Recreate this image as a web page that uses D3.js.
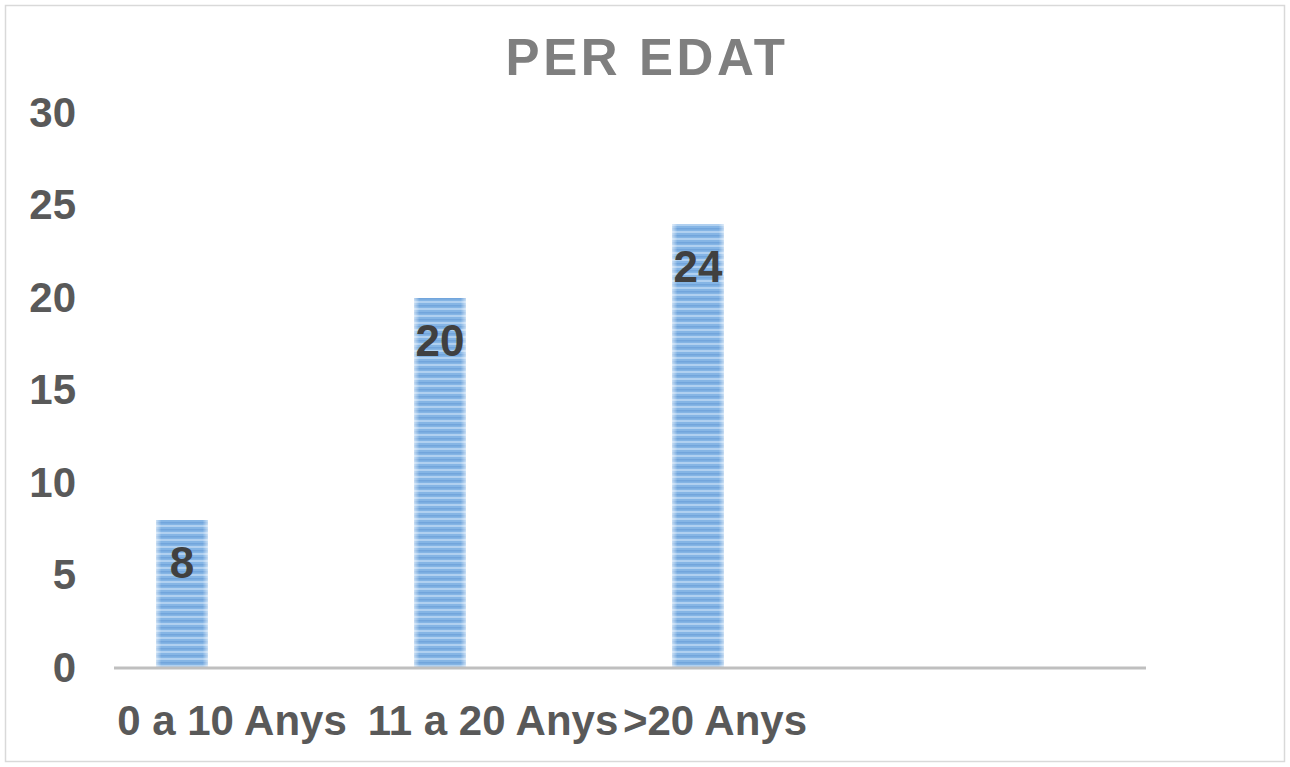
<!DOCTYPE html>
<html>
<head>
<meta charset="utf-8">
<script src="https://cdn.jsdelivr.net/npm/d3@7"></script>
<style>
  html, body { margin: 0; padding: 0; background: #fff; }
  svg { display: block; }
  text { font-family: "Liberation Sans", Arial, sans-serif; font-weight: bold; }
</style>
</head>
<body>
<svg id="chart" width="1290" height="767"></svg>
<script>
const categories = ["0 a 10 Anys", "11 a 20 Anys", ">20 Anys"];
const values = [8, 20, 24];
const yTicks = [0, 5, 10, 15, 20, 25, 30];
const title = "PER EDAT";

const svg = d3.select("#chart");
const W = 1290, H = 767;

// outer border
svg.append("rect").attr("x", 5.5).attr("y", 5.5).attr("width", W - 11).attr("height", H - 11)
  .attr("fill", "#fff").attr("stroke", "#d9d9d9").attr("stroke-width", 1.5);

const defs = svg.append("defs");
const pat = defs.append("pattern").attr("id", "stripes").attr("patternUnits", "userSpaceOnUse")
  .attr("width", 8).attr("height", 7);
pat.append("rect").attr("width", 8).attr("height", 7).attr("fill", "#85b5e5");
pat.append("rect").attr("y", 0).attr("width", 8).attr("height", 2).attr("fill", "#b0d0f0");
pat.append("rect").attr("y", 4).attr("width", 8).attr("height", 1.5).attr("fill", "#72a5dc");
const grad = defs.append("linearGradient").attr("id", "edge").attr("x1", 0).attr("x2", 1).attr("y1", 0).attr("y2", 0);
grad.append("stop").attr("offset", "0%").attr("stop-color", "#fff").attr("stop-opacity", 0.55);
grad.append("stop").attr("offset", "10%").attr("stop-color", "#fff").attr("stop-opacity", 0.0);
grad.append("stop").attr("offset", "90%").attr("stop-color", "#fff").attr("stop-opacity", 0.0);
grad.append("stop").attr("offset", "100%").attr("stop-color", "#fff").attr("stop-opacity", 0.55);

const y = d3.scaleLinear().domain([0, 30]).range([668, 113]);
const step = 258;
const x = d3.scaleBand().domain(categories).range([182 - step / 2, 182 - step / 2 + step * categories.length])
  .paddingInner(0.8).paddingOuter(0.4);

// title
svg.append("text").attr("x", 647).attr("y", 75).attr("text-anchor", "middle")
  .attr("font-size", 51).attr("letter-spacing", 3.6).attr("fill", "#7f7f7f").text(title);

// y axis labels
const yAxis = d3.axisLeft(y).tickValues(yTicks).tickSize(0).tickPadding(0);
const gy = svg.append("g").attr("transform", "translate(76,0)").call(yAxis);
gy.select(".domain").remove();
gy.selectAll("text").attr("font-size", 42).attr("fill", "#595959")
  .attr("font-family", "Liberation Sans, Arial, sans-serif").attr("font-weight", "bold");

// bars
const bars = svg.append("g");
bars.selectAll("rect.bar").data(values).join("rect").attr("class", "bar")
  .attr("x", (d, i) => x(categories[i])).attr("width", x.bandwidth())
  .attr("y", d => y(d)).attr("height", d => y(0) - y(d)).attr("fill", "url(#stripes)");
bars.selectAll("rect.edge").data(values).join("rect").attr("class", "edge")
  .attr("x", (d, i) => x(categories[i])).attr("width", x.bandwidth())
  .attr("y", d => y(d)).attr("height", d => y(0) - y(d)).attr("fill", "url(#edge)");

// data labels
svg.append("g").selectAll("text").data(values).join("text")
  .attr("x", (d, i) => x(categories[i]) + x.bandwidth() / 2)
  .attr("y", d => y(d) + 58).attr("text-anchor", "middle")
  .attr("font-size", 44).attr("fill", "#404040").text(d => d);

// x axis line
svg.append("line").attr("x1", 114).attr("x2", 1146).attr("y1", y(0)).attr("y2", y(0))
  .attr("stroke", "#bfbfbf").attr("stroke-width", 3);

// x labels (Excel-like overflowing placement)
const labelShift = [50, 53, 17];
svg.append("g").selectAll("text").data(categories).join("text")
  .attr("x", (d, i) => x(d) + x.bandwidth() / 2 + labelShift[i])
  .attr("y", 735).attr("text-anchor", "middle")
  .attr("font-size", 42).attr("fill", "#595959").text(d => d);
</script>
</body>
</html>
